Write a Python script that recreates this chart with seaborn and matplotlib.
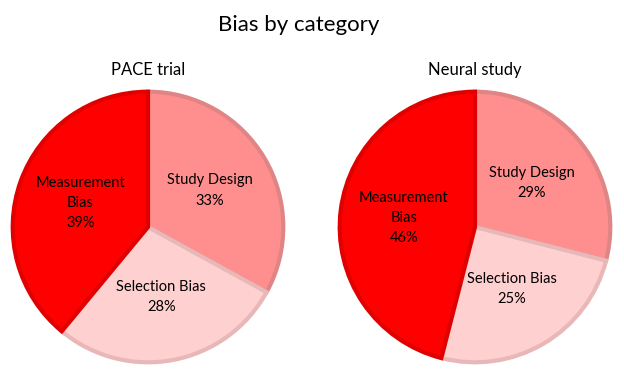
import matplotlib
matplotlib.use("Agg")
import matplotlib.pyplot as plt
import seaborn as sns

categories = ["Study Design", "Selection Bias", "Measurement\nBias"]
pace_values = [33, 28, 39]
neural_values = [29, 25, 46]
studies = ["PACE trial", "Neural study"]

fill_colors = ["#ff8f8f", "#ffd0d0", "#ff0000"]
edge_colors = ["#e08585", "#e8b8b8", "#e00000"]

sns.set_theme(style="white")
plt.rcParams['font.family'] = ['Lato', 'DejaVu Sans']
plt.rcParams['text.color'] = 'black'

fig = plt.figure(figsize=(6.24, 3.83), dpi=100)
W, H = 624, 383

def draw_pie(cx, cy, r, values, name):
    ax = fig.add_axes([(cx - r) / W, (H - cy - r) / H, 2 * r / W, 2 * r / H])
    labels = [f"{c}\n{v}%" for c, v in zip(categories, values)]
    wedges, texts = ax.pie(values, labels=labels, colors=fill_colors,
                           startangle=90, counterclock=False,
                           labeldistance=0.53,
                           wedgeprops=dict(linewidth=3))
    for w, ec in zip(wedges, edge_colors):
        w.set_edgecolor(ec)
    for t in texts:
        t.set_ha("center")
        t.set_va("center")
        t.set_fontsize(10.5)
        t.set_color("black")
        t.set_linespacing(1.55)
    ax.set_xlim(-1.02, 1.02)
    ax.set_ylim(-1.02, 1.02)
    ax.set_aspect("equal")
    fig.text(cx / W, 1 - 70 / H, name, ha="center", va="center", fontsize=12)

draw_pie(148, 227, 138, pace_values, studies[0])
draw_pie(475, 227, 138, neural_values, studies[1])

fig.text(299 / W, 1 - 25 / H, "Bias by category", ha="center", va="center", fontsize=16)

plt.savefig("out.png", dpi=100)
